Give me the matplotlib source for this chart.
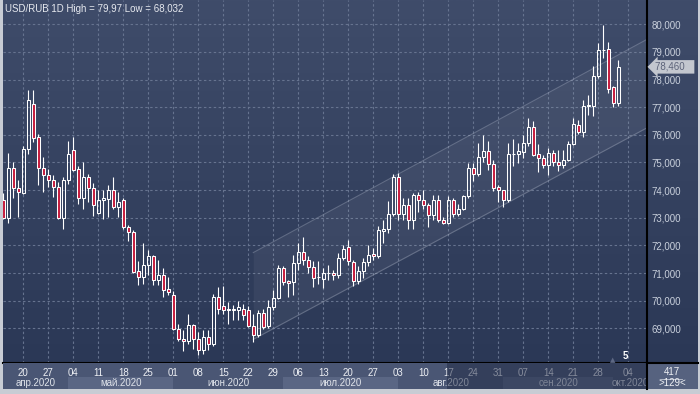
import numpy as np
import pandas as pd
import matplotlib
matplotlib.use("Agg")
import matplotlib.pyplot as plt
import matplotlib.transforms as mtransforms
from matplotlib.colors import LinearSegmentedColormap

plt.rcParams['font.family'] = ['Liberation Sans', 'DejaVu Sans']

# daily bars, 14.04.2020 - 02.10.2020
dates = pd.bdate_range("2020-04-14", "2020-10-02")

opens = [
    73.65, 73.00, 74.80, 74.08,
    73.90, 75.49, 77.12, 75.91, 74.80,
    74.55, 74.35, 74.10, 73.00, 74.35,
    75.46, 74.77, 73.72, 74.47, 74.08,
    73.17, 73.65, 73.68, 73.99, 73.40,
    73.65, 72.65, 72.47, 71.07, 70.86,
    71.28, 71.61, 70.74, 70.94, 70.44,
    70.20, 68.99, 68.63, 68.54, 69.11,
    68.63, 68.20, 68.69, 68.44, 70.14,
    69.82, 69.70, 69.68, 69.65, 69.71,
    69.65, 69.08, 68.75, 69.56, 69.08,
    69.79, 70.09, 71.18, 70.70, 70.66,
    71.36, 71.75, 71.48, 71.22, 70.85,
    70.78, 71.00, 71.00, 70.92, 71.55,
    71.95, 71.40, 70.70, 71.06, 71.40,
    71.69, 71.60, 72.52, 72.60, 73.12,
    74.48, 73.13, 73.45, 72.91, 73.82,
    73.66, 73.45, 73.09, 73.66, 72.91,
    72.81, 73.66, 73.13, 73.33, 73.78,
    74.79, 74.58, 75.19, 75.43, 74.95,
    74.10, 74.00, 73.66, 75.31, 75.32,
    75.37, 75.70, 76.30, 75.32, 75.16,
    74.90, 75.34, 75.02, 74.90, 75.10,
    75.68, 76.37, 76.09, 77.05, 77.05,
    78.13, 79.07, 79.10, 77.73, 77.15,
]
highs = [
    73.90, 75.34, 75.03, 74.38,
    75.60, 77.63, 77.63, 76.04, 75.19,
    74.77, 74.53, 74.29, 74.47, 75.79,
    75.94, 74.89, 75.01, 74.59, 74.26,
    73.99, 73.99, 74.17, 74.47, 73.92,
    73.70, 72.73, 72.55, 71.43, 72.09,
    71.83, 71.65, 71.46, 71.20, 70.84,
    70.35, 69.14, 68.93, 69.53, 69.17,
    68.87, 68.93, 68.93, 70.26, 70.50,
    70.52, 69.95, 69.83, 70.00, 69.89,
    69.80, 69.53, 69.65, 69.71, 70.03,
    70.39, 71.30, 71.27, 70.76, 71.67,
    72.09, 72.31, 71.61, 71.42, 71.42,
    71.18, 71.30, 71.12, 71.73, 72.03,
    72.21, 71.48, 71.24, 71.55, 72.03,
    71.91, 72.72, 72.92, 73.60, 74.57,
    74.63, 73.70, 73.70, 73.90, 73.94,
    74.00, 73.52, 73.82, 73.82, 73.03,
    73.78, 73.73, 73.49, 73.82, 74.97,
    74.97, 75.70, 76.00, 75.76, 75.09,
    74.18, 74.02, 75.70, 75.84, 75.70,
    76.00, 76.61, 76.49, 75.68, 75.28,
    75.52, 75.46, 75.46, 75.44, 75.76,
    76.61, 76.55, 77.27, 77.45, 78.50,
    79.31, 79.97, 79.37, 77.77, 78.71,
]
lows = [
    72.95, 72.80, 73.72, 73.02,
    73.85, 75.31, 75.73, 74.19, 73.93,
    74.13, 73.75, 72.96, 72.60, 74.23,
    74.71, 73.50, 73.32, 73.56, 73.08,
    73.14, 72.96, 73.02, 73.32, 73.02,
    72.60, 72.16, 71.00, 70.56, 70.60,
    70.92, 70.56, 70.56, 70.13, 70.20,
    68.93, 68.54, 68.18, 68.44, 68.26,
    68.03, 68.08, 68.20, 68.35, 69.53,
    69.53, 69.17, 69.31, 69.31, 69.29,
    69.05, 68.50, 68.69, 68.99, 69.00,
    69.67, 70.05, 70.58, 70.15, 70.21,
    71.12, 71.30, 71.00, 70.49, 70.61,
    70.45, 70.76, 70.76, 70.82, 71.48,
    71.30, 70.54, 70.61, 70.82, 71.24,
    71.48, 71.55, 72.07, 72.45, 73.08,
    72.91, 72.91, 72.61, 72.61, 73.21,
    73.30, 72.67, 72.93, 72.85, 72.79,
    72.76, 73.03, 73.05, 73.27, 73.73,
    74.34, 74.51, 75.00, 74.73, 73.98,
    73.58, 73.39, 73.58, 74.88, 74.98,
    75.16, 75.58, 75.22, 74.64, 74.80,
    74.56, 74.86, 74.68, 74.80, 75.04,
    75.64, 76.04, 75.94, 76.73, 76.67,
    78.05, 78.77, 77.53, 77.00, 77.05,
]
closes = [
    73.00, 74.80, 74.08, 73.93,
    75.49, 77.27, 75.89, 74.80, 74.56,
    74.37, 74.10, 73.00, 74.35, 75.31,
    74.73, 73.72, 74.47, 74.08, 73.48,
    73.65, 73.70, 73.99, 73.40, 73.56,
    72.66, 72.47, 71.04, 70.86, 71.28,
    71.61, 70.74, 70.94, 70.40, 70.32,
    68.99, 68.63, 68.54, 69.11, 68.63,
    68.23, 68.69, 68.44, 70.14, 69.71,
    69.68, 69.68, 69.70, 69.77, 69.47,
    69.08, 68.75, 69.56, 69.05, 69.79,
    70.09, 71.18, 70.66, 70.64, 71.36,
    71.75, 71.48, 71.22, 70.82, 70.84,
    71.00, 71.01, 70.92, 71.55, 71.87,
    71.42, 70.70, 71.06, 71.40, 71.64,
    71.60, 72.55, 72.60, 73.12, 74.48,
    73.13, 73.45, 72.91, 73.82, 73.66,
    73.45, 73.09, 73.66, 72.91, 72.81,
    73.66, 73.13, 73.33, 73.78, 74.79,
    74.58, 75.19, 75.43, 74.95, 74.06,
    74.00, 73.66, 75.31, 75.30, 75.40,
    75.70, 76.30, 75.28, 75.16, 74.90,
    75.34, 75.02, 74.90, 75.10, 75.68,
    76.40, 76.09, 77.05, 77.06, 78.13,
    79.07, 79.08, 77.65, 77.17, 78.46,
]

# trend channel (bar index, price)
channel_idx = [50, 129]
channel_upper = [71.74, 79.48]
channel_lower = [68.60, 76.28]

price_ticks = list(range(69, 81))
week_labels = ["20", "27", "04", "11", "18", "25", "01", "08", "15", "22", "29",
               "06", "13", "20", "27", "03", "10", "17", "24", "31", "07", "14",
               "21", "28", "04"]
month_labels = ["апр.2020", "май.2020", "июн.2020", "июл.2020",
                "авг.2020", "сен.2020", "окт.2020"]
title = "USD/RUB 1D High = 79,97 Low = 68,032"

# colours
BG_TOP = "#3f4c6a"
BG_BOTTOM = "#2b3856"
FRAME = "#c8ccd4"
RED = "#c61d3f"
GRID = "#66738f"
TXT = "#e6e9ef"

W, H = 700, 394
fig = plt.figure(figsize=(7, 3.94), dpi=100, facecolor=FRAME)


def px_axes(x0, y0, x1, y1):
    return fig.add_axes([x0 / W, 1 - y1 / H, (x1 - x0) / W, (y1 - y0) / H])


# gradient background behind chart + price scale
bg = px_axes(3, 0, 698, 363)
cmap = LinearSegmentedColormap.from_list("bg", [BG_TOP, BG_BOTTOM])
bg.imshow(np.linspace(0, 1, 256).reshape(-1, 1), aspect="auto", cmap=cmap,
          extent=[0, 1, 0, 1])
bg.axis("off")

ax = px_axes(3, 0, 647, 363)
ax.set_facecolor("none")
n = len(dates)
x = np.arange(n)
o = np.array(opens)
h = np.array(highs)
l = np.array(lows)
c = np.array(closes)

xmin, xmax = -0.06, 128.74
ymin, ymax = 67.746, 80.879
ax.set_xlim(xmin, xmax)
ax.set_ylim(ymin, ymax)

# grid
mondays = [i for i, d in enumerate(dates) if d.weekday() == 0]
week_idx = mondays + [n + 1]
ax.set_xticks(week_idx)
ax.set_yticks(price_ticks)
ax.grid(True, color=GRID, linestyle=(0, (2.2, 2.2)), linewidth=0.8)
ax.set_axisbelow(True)

# channel
ax.fill_between(channel_idx, channel_lower, channel_upper, color="white",
                alpha=0.05, linewidth=0, zorder=1)
ax.plot(channel_idx, channel_upper, color="#aab2c4", alpha=0.38, lw=0.8, zorder=1)
ax.plot(channel_idx, channel_lower, color="#aab2c4", alpha=0.38, lw=0.8, zorder=1)

# candles
top = np.maximum(o, c)
bot = np.minimum(o, c)
ax.vlines(x, top, h, color="white", lw=0.8, zorder=3)
ax.vlines(x, l, bot, color="white", lw=0.8, zorder=3)
body = np.maximum(top - bot, 0.015)
up = c >= o
ax.bar(x[up], body[up], bottom=bot[up], width=0.6, facecolor="none",
       edgecolor="white", linewidth=0.75, zorder=4)
ax.bar(x[~up], body[~up], bottom=bot[~up], width=0.6, facecolor=RED,
       edgecolor="white", linewidth=0.75, zorder=4)

ax.yaxis.tick_right()
ax.set_yticklabels([f"{v:.3f}".replace(".", ",") for v in price_ticks])
ax.tick_params(axis="y", length=0, pad=3, labelsize=7, labelcolor="#c9d0dc")
ax.tick_params(axis="x", length=0, labelbottom=False)
for s in ["top", "left"]:
    ax.spines[s].set_visible(False)
for s in ["right", "bottom"]:
    ax.spines[s].set_color("black")
    ax.spines[s].set_linewidth(1.5)

# last price tag
trans = mtransforms.blended_transform_factory(ax.transAxes, ax.transData)
ax.text(1.012, closes[-1], "78,460   ", transform=trans, ha="left", va="center",
        fontsize=7, color="#5c6379", clip_on=False, zorder=10,
        bbox=dict(boxstyle="larrow,pad=0.18", fc="#c3c7cf", ec="none"))

# time axis panel
bx = px_axes(3, 363, 647, 389)
bx.set_facecolor("#4a5674")
bx.set_xlim(xmin, xmax)
bx.set_ylim(26, 0)
bx.set_xticks([])
bx.set_yticks([])
for s in bx.spines.values():
    s.set_visible(False)

month_start = [i for i in range(1, n) if dates[i].month != dates[i - 1].month]
edges = [xmin] + month_start + [xmax]
for k, lab in enumerate(month_labels):
    a, b = edges[k], edges[k + 1]
    if k % 2 == 1:
        bx.axvspan(a, b, ymin=0, ymax=12 / 26, color="#5a6684", lw=0, zorder=1)
    bx.text((a + b) / 2, 20, lab, ha="center", va="center", fontsize=7,
            color="#dfe3ea", zorder=2, clip_on=True)
for xi, lab in zip(week_idx, week_labels):
    bx.text(xi, 9.5, lab, ha="center", va="center", fontsize=7, color="#eef0f4",
            zorder=2)
dim_from = dates.get_loc(pd.Timestamp("2020-08-17")) - 0.3
bx.axvspan(dim_from, xmax, color="#1f2944", alpha=0.5, lw=0, zorder=5)

# corner box
cx = px_axes(647, 363, 698, 389)
cx.set_facecolor("#56627f")
cx.set_xlim(0, 1)
cx.set_ylim(0, 1)
cx.set_xticks([])
cx.set_yticks([])
for s in ["right", "bottom"]:
    cx.spines[s].set_visible(False)
for s in ["left", "top"]:
    cx.spines[s].set_color("black")
    cx.spines[s].set_linewidth(1.5)
cx.text(0.49, 0.66, "417", ha="center", va="center", fontsize=7, color="#eef0f4")
cx.plot([0.26, 0.69], [0.40, 0.40], color="#c0c6d2", lw=0.6)
cx.text(0.49, 0.22, ">129<", ha="center", va="center", fontsize=7, color="#eef0f4")

# labels on the chart
fig.text(5 / W, 1 - 8.5 / H, title, ha="left", va="center", fontsize=7, color=TXT)
fig.text(625 / W, 1 - 356 / H, "5", ha="center", va="center", fontsize=7,
         color="white", fontweight="bold")
fig.text(613 / W, 1 - 360 / H, "\u25b2", ha="center", va="center", fontsize=5,
         color="#5d6884", family="DejaVu Sans")

fig.savefig("out.png", dpi=100, facecolor=FRAME)
